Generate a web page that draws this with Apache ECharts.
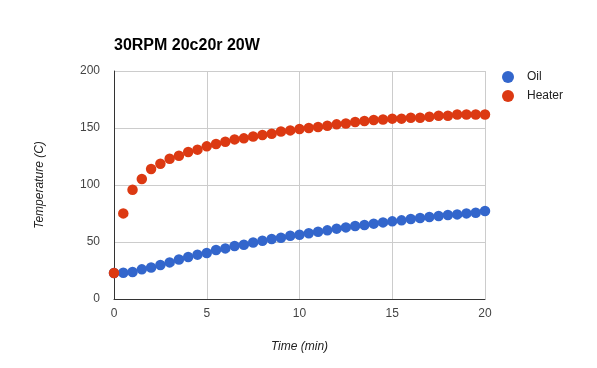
<!DOCTYPE html>
<html><head><meta charset="utf-8">
<script src="https://cdn.jsdelivr.net/npm/echarts@6/dist/echarts.min.js"></script>
<style>html,body{margin:0;padding:0;background:#fff}#c{width:597px;height:368px}</style>
</head><body><div id="c"></div>
<script>
const times = [0,0.5,1,1.5,2,2.5,3,3.5,4,4.5,5,5.5,6,6.5,7,7.5,8,8.5,9,9.5,10,10.5,11,11.5,12,12.5,13,13.5,14,14.5,15,15.5,16,16.5,17,17.5,18,18.5,19,19.5,20];
const oil = [22.8,23.0,23.7,26.0,27.7,29.8,32.1,34.7,36.8,38.9,40.4,43.0,44.4,46.5,47.6,49.6,51.1,52.6,53.8,55.5,56.4,57.6,59.0,60.2,61.7,62.8,64.0,64.9,66.1,67.2,68.1,69.0,70.2,71.0,71.9,72.8,73.7,74.2,75.1,75.7,77.2];
const heater = [22.8,75.1,95.9,105.3,114.0,118.7,123.1,125.7,128.9,131.0,133.9,136.0,138.0,140.0,140.9,142.6,143.9,145.0,147.0,147.9,149.1,150.0,150.9,152.0,153.2,154.0,155.3,156.1,157.0,157.5,158.2,158.2,159.0,159.0,159.9,160.8,160.8,161.9,161.9,161.9,161.9];
const seriesNames = ['Oil','Heater'];
const title = '30RPM 20c20r 20W';
const xName = 'Time (min)', yName = 'Temperature (C)';

const chart = echarts.init(document.getElementById('c'), null, {renderer:'canvas'});
const font = 'Arial, "Liberation Sans", sans-serif';
chart.setOption({
  animation:false,
  color:['#3366cc','#dc3912'],
  textStyle:{fontFamily:font},
  title:{text:title,left:109,top:33,textStyle:{fontFamily:font,fontSize:16,fontWeight:'bold',color:'#000'}},
  legend:{orient:'vertical',left:497,top:66,itemGap:7,itemWidth:12,itemHeight:12,icon:'circle',
    textStyle:{fontFamily:font,fontSize:12,color:'#222',padding:[0,0,0,8]},data:seriesNames},
  grid:{left:114,right:112,top:71,bottom:69,containLabel:false},
  xAxis:{type:'value',min:0,max:20,interval:5,name:xName,nameLocation:'middle',nameGap:42,
    nameTextStyle:{fontFamily:font,fontStyle:'italic',fontSize:12,color:'#222'},
    axisLine:{show:true,onZero:false,lineStyle:{color:'#333',width:1}},axisTick:{show:false},
    axisLabel:{fontFamily:font,fontSize:12,color:'#444',margin:9},
    splitLine:{show:true,lineStyle:{color:'#cccccc'}}},
  yAxis:{type:'value',min:0,max:200,interval:50,name:yName,nameLocation:'middle',nameGap:68,
    nameTextStyle:{fontFamily:font,fontStyle:'italic',fontSize:12,color:'#222'},
    axisLine:{show:true,onZero:false,lineStyle:{color:'#333',width:1}},axisTick:{show:false},
    axisLabel:{fontFamily:font,fontSize:12,color:'#444',margin:14},
    splitLine:{show:true,lineStyle:{color:'#cccccc'}}},
  series:[
    {name:seriesNames[0],type:'scatter',symbolSize:10.5,data:times.map((t,i)=>[t,oil[i]]),itemStyle:{opacity:1}},
    {name:seriesNames[1],type:'scatter',symbolSize:10.5,data:times.map((t,i)=>[t,heater[i]]),itemStyle:{opacity:1}}
  ]
});
</script></body></html>
